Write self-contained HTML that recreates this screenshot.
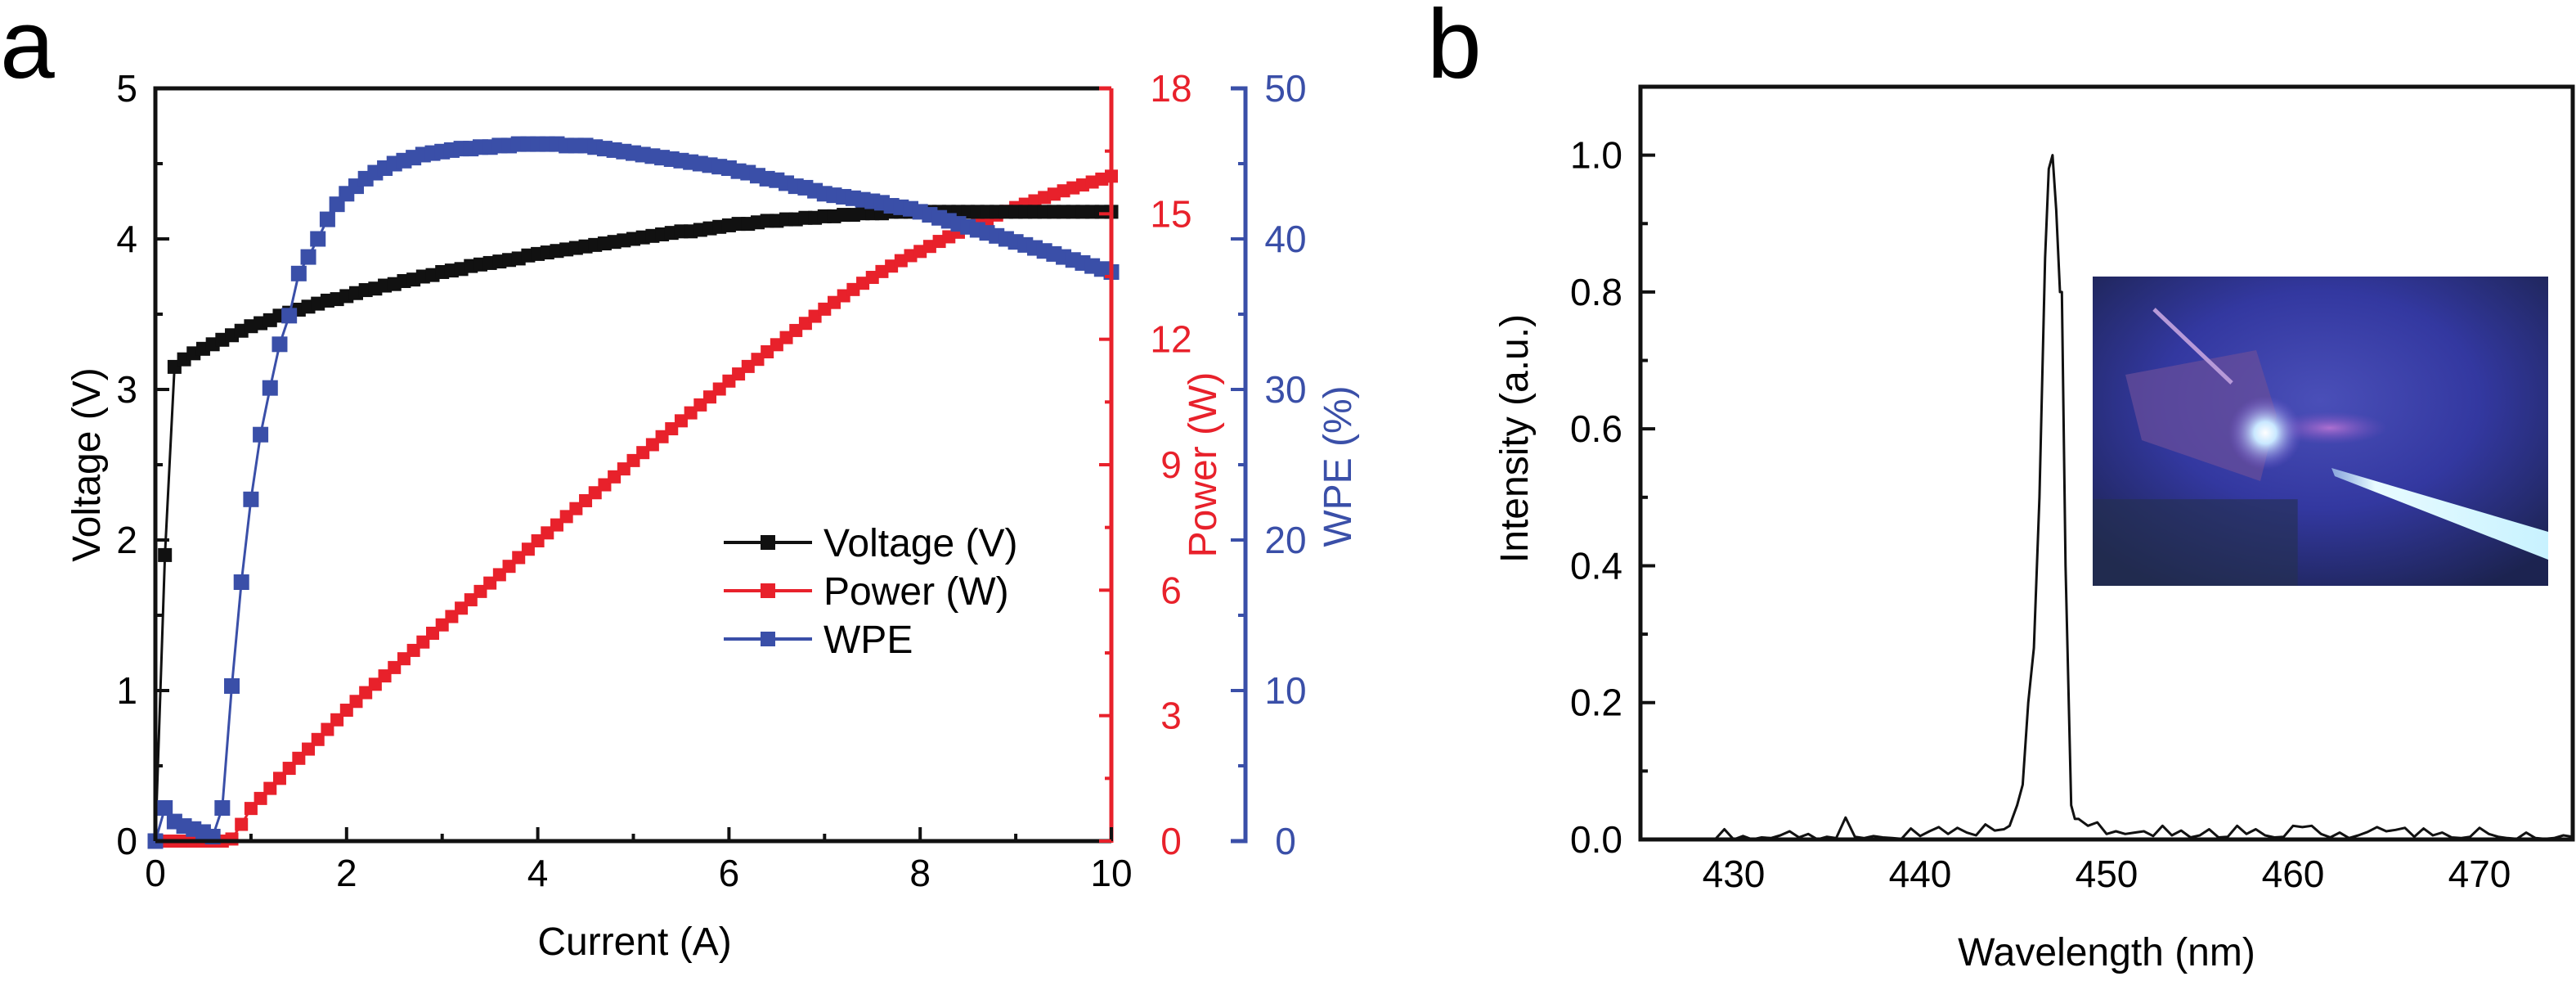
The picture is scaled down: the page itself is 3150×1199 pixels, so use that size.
<!DOCTYPE html>
<html><head><meta charset="utf-8"><style>
html,body{margin:0;padding:0;background:#fff;}
svg{display:block;font-family:"Liberation Sans",Arial,sans-serif;}
</style></head><body>
<svg id="fig" width="3150" height="1199" viewBox="0 0 3150 1199" xmlns="http://www.w3.org/2000/svg">
<defs>
<radialGradient id="bgGlow" cx="0.5" cy="0.4" r="0.7">
<stop offset="0" stop-color="#4a4fb8"/><stop offset="0.5" stop-color="#3338a0"/><stop offset="1" stop-color="#1c2350"/>
</radialGradient>
<radialGradient id="spot" cx="0.5" cy="0.5" r="0.5">
<stop offset="0" stop-color="#ffffff"/><stop offset="0.3" stop-color="#c9e8ff"/><stop offset="1" stop-color="#7a5ad0" stop-opacity="0"/>
</radialGradient>
<linearGradient id="beam" x1="0" y1="0" x2="1" y2="0">
<stop offset="0" stop-color="#bfe9ff" stop-opacity="0.6"/><stop offset="0.2" stop-color="#e8fbff"/><stop offset="1" stop-color="#c8f2ff"/>
</linearGradient>
<radialGradient id="pinkGlow" cx="0.5" cy="0.5" r="0.5">
<stop offset="0" stop-color="#c87ad8" stop-opacity="0.8"/><stop offset="1" stop-color="#8050c0" stop-opacity="0"/>
</radialGradient>
</defs>
<g id="panelA"></g>
<g id="panelB"></g>
</svg>
<script>
// ---------- Panel a data ----------
const currentA = [0,0.1,0.2,0.3,0.4,0.5,0.6,0.7,0.8,0.9,1.0,1.1,1.2,1.3,1.4,1.5,1.6,1.7,1.8,1.9,2.0,2.1,2.2,2.3,2.4,2.5,2.6,2.7,2.8,2.9,3.0,3.1,3.2,3.3,3.4,3.5,3.6,3.7,3.8,3.9,4.0,4.1,4.2,4.3,4.4,4.5,4.6,4.7,4.8,4.9,5.0,5.1,5.2,5.3,5.4,5.5,5.6,5.7,5.8,5.9,6.0,6.1,6.2,6.3,6.4,6.5,6.6,6.7,6.8,6.9,7.0,7.1,7.2,7.3,7.4,7.5,7.6,7.7,7.8,7.9,8.0,8.1,8.2,8.3,8.4,8.5,8.6,8.7,8.8,8.9,9.0,9.1,9.2,9.3,9.4,9.5,9.6,9.7,9.8,9.9,10.0];
const voltageV = [0,1.9,3.15,3.2,3.24,3.27,3.3,3.33,3.36,3.39,3.42,3.44,3.46,3.49,3.51,3.53,3.55,3.57,3.59,3.6,
3.62,3.64,3.66,3.67,3.69,3.70,3.72,3.73,3.75,3.76,3.78,
3.79,3.80,3.82,3.83,3.84,3.85,3.86,3.87,3.89,3.90,
3.91,3.92,3.93,3.94,3.95,3.96,3.97,3.98,3.99,4.00,
4.01,4.02,4.03,4.04,4.05,4.05,4.06,4.07,4.08,4.09,
4.10,4.10,4.11,4.12,4.12,4.13,4.13,4.14,4.14,4.15,
4.15,4.16,4.16,4.17,4.17,4.17,4.18,4.18,4.18,4.18,
4.18,4.18,4.18,4.18,4.18,4.18,4.18,4.18,4.18,4.18,4.18,4.18,4.18,4.18,4.18,4.18,4.18,4.18,4.18,4.18];
const powerW = [0,0,0,0,0,0,0,0,0.05,0.4,0.78,1.02,1.26,1.5,1.74,1.98,2.2,2.43,2.67,2.9,3.13,
3.34,3.55,3.75,3.95,4.15,4.36,4.56,4.76,4.97,5.17,
5.37,5.57,5.77,5.97,6.17,6.37,6.57,6.78,6.98,7.18,
7.37,7.56,7.76,7.95,8.14,8.33,8.52,8.71,8.9,9.1,
9.29,9.48,9.67,9.86,10.05,10.24,10.43,10.62,10.81,11.0,
11.17,11.35,11.52,11.7,11.87,12.04,12.21,12.38,12.55,12.72,
12.88,13.04,13.19,13.34,13.48,13.62,13.75,13.88,14.0,14.1,
14.22,14.34,14.45,14.56,14.67,14.77,14.87,14.97,15.06,15.15,
15.23,15.31,15.39,15.47,15.55,15.62,15.69,15.76,15.83,15.9];
const wpePct = [0,2.2,1.3,1.0,0.8,0.6,0.3,2.2,10.3,17.2,22.7,27,30.1,33,34.9,37.7,38.8,40,41.3,42.3,43.0,
43.5,44,44.4,44.7,45,45.2,45.4,45.6,45.7,45.8,
45.9,46,46,46.1,46.1,46.2,46.2,46.3,46.3,46.3,
46.3,46.3,46.2,46.2,46.2,46.1,46.0,45.9,45.8,45.7,
45.6,45.5,45.4,45.3,45.2,45.1,45.0,44.9,44.8,44.7,
44.5,44.4,44.2,44.0,43.9,43.7,43.5,43.4,43.2,43.0,
42.9,42.8,42.7,42.6,42.5,42.4,42.2,42.1,42.0,41.8,
41.6,41.4,41.2,41.0,40.8,40.6,40.4,40.2,40.0,39.8,
39.6,39.4,39.2,39.0,38.8,38.6,38.4,38.2,38.0,37.8];
const xTicksA = [0,2,4,6,8,10];
const vTicks = [0,1,2,3,4,5];
const pTicks = [0,3,6,9,12,15,18];
const wTicks = [0,10,20,30,40,50];

// ---------- Panel b data ----------
const wavelengths = [425,429,429.5,430,430.5,431,431.5,432,432.5,433,433.5,434,434.5,435,435.5,436,436.5,437,437.5,438,438.5,439,439.5,440,440.5,441,441.5,442,442.5,443,443.5,444,444.5,
444.8,445.2,445.5,445.8,446.1,446.4,446.7,446.9,447.1,447.3,447.5,447.6,447.8,448.1,448.3,
448.5,449,449.5,450,450.5,451,451.5,452,452.5,453,453.5,454,454.5,455,455.5,456,456.5,457,457.5,458,458.5,459,459.5,460,460.5,461,461.5,462,462.5,463,463.5,464,464.5,465,465.5,466,466.5,467,467.5,468,468.5,469,469.5,470,470.5,471,471.5,472,472.5,473,473.5,474,474.5,475];
const intensity = [0,0,0.015,0,0.005,0,0.003,0.002,0.006,0.012,0.003,0.008,0,0.004,0.002,0.032,0.004,0.002,0.005,0.003,0.002,0.001,0.016,0.005,0.012,0.018,0.008,0.017,0.01,0.006,0.022,0.013,0.015,
0.02,0.05,0.08,0.2,0.28,0.5,0.85,0.98,1.0,0.92,0.8,0.8,0.4,0.05,0.03,
0.03,0.02,0.025,0.008,0.012,0.008,0.01,0.012,0.005,0.02,0.006,0.013,0.003,0.006,0.015,0.003,0.004,0.02,0.008,0.015,0.006,0.003,0.004,0.02,0.018,0.02,0.008,0.003,0.01,0.002,0.006,0.011,0.018,0.012,0.014,0.017,0.004,0.016,0.006,0.01,0.003,0.002,0.004,0.017,0.008,0.004,0.002,0.001,0.01,0.002,0.001,0.002,0.006,0.004];
const xTicksB = [430,440,450,460,470];
const yTicksB = [0,0.2,0.4,0.6,0.8,1.0];

const NS = "http://www.w3.org/2000/svg";
function mk(parent, tag, attrs, text){
  const e = document.createElementNS(NS, tag);
  for (const k in attrs) e.setAttribute(k, attrs[k]);
  if (text !== undefined) e.textContent = text;
  parent.appendChild(e);
  return e;
}
const RED = "#e8212b", BLUE = "#3a4fa8", FS = 46;

// ---------- Panel a ----------
const A = document.getElementById('panelA');
const aL = 190, aR = 1359, aT = 108, aB = 1028;
const xA = v => aL + (v/10)*(aR-aL);
const yV = v => aB - (v/5)*(aB-aT);
const yP = v => aB - (v/18)*(aB-aT);
const yW = v => aB - (v/50)*(aB-aT);

let t = mk(A,'text',{x:0,y:95,'font-size':120,fill:'#000'},'a');
 

function series(vals, yf, color, name, msize){
  const g = mk(A,'g',{});
  
  
  const pts = currentA.map((c,i)=> xA(c).toFixed(1)+','+yf(vals[i]).toFixed(1)).join(' ');
  const pl = mk(g,'polyline',{points:pts,fill:'none',stroke:color,'stroke-width':3});
  
  
  currentA.forEach((c,i)=>{
    const r = mk(g,'rect',{x:xA(c)-msize/2,y:yf(vals[i])-msize/2,width:msize,height:msize,fill:color});
    
    
  });
}
series(powerW, yP, RED, 'power', 16);
series(voltageV, yV, '#111', 'voltage', 17);
series(wpePct, yW, BLUE, 'wpe', 19);

let fr = mk(A,'path',{d:`M${aL},${aB} L${aL},${aT} L${aR},${aT}`,fill:'none',stroke:'#111','stroke-width':5});
 
let bx = mk(A,'line',{x1:aL,y1:aB,x2:aR,y2:aB,stroke:'#111','stroke-width':5});
 
let ra = mk(A,'line',{x1:aR,y1:aT,x2:aR,y2:aB+2,stroke:RED,'stroke-width':5});
 
mk(A,'line',{x1:aR-15,y1:aT,x2:aR,y2:aT,stroke:RED,'stroke-width':5});
const wX = 1523;
let ba = mk(A,'path',{d:`M${wX-18},${aT} L${wX},${aT} L${wX},${aB} L${wX-18},${aB}`,fill:'none',stroke:BLUE,'stroke-width':5});
 

for (let v=0; v<=10; v+=1){
  const major = v%2===0;
  mk(A,'line',{x1:xA(v),y1:aB,x2:xA(v),y2:aB-(major?17:9),stroke:'#111','stroke-width':4});
}
xTicksA.forEach(v=>{
  const e = mk(A,'text',{x:xA(v),y:1083,'font-size':FS,'text-anchor':'middle',fill:'#000'},String(v));
   
});
for (let v=0; v<=5; v+=0.5){
  const major = Math.abs(v-Math.round(v))<1e-6;
  mk(A,'line',{x1:aL,y1:yV(v),x2:aL+(major?17:9),y2:yV(v),stroke:'#111','stroke-width':4});
}
vTicks.forEach(v=>{
  const e = mk(A,'text',{x:168,y:yV(v)+16,'font-size':FS,'text-anchor':'end',fill:'#000'},String(v));
   
});
for (let v=0; v<=18; v+=1.5){
  const major = v%3===0;
  mk(A,'line',{x1:aR,y1:yP(v),x2:aR-(major?15:8),y2:yP(v),stroke:RED,'stroke-width':4});
}
pTicks.forEach(v=>{
  const e = mk(A,'text',{x:1432,y:yP(v)+16,'font-size':FS,'text-anchor':'middle',fill:RED},String(v));
   
});
for (let v=0; v<=50; v+=5){
  const major = v%10===0;
  mk(A,'line',{x1:wX,y1:yW(v),x2:wX-(major?18:9),y2:yW(v),stroke:BLUE,'stroke-width':4});
}
wTicks.forEach(v=>{
  const e = mk(A,'text',{x:1572,y:yW(v)+16,'font-size':FS,'text-anchor':'middle',fill:BLUE},String(v));
   
});
t = mk(A,'text',{x:776,y:1167,'font-size':48,'text-anchor':'middle',fill:'#000'},'Current (A)');
 
t = mk(A,'text',{x:0,y:0,'font-size':48,'text-anchor':'middle',fill:'#000',transform:'translate(122,568) rotate(-90)'},'Voltage (V)');
 
t = mk(A,'text',{x:0,y:0,'font-size':48,'text-anchor':'middle',fill:RED,transform:'translate(1487,568) rotate(-90)'},'Power (W)');
 
t = mk(A,'text',{x:0,y:0,'font-size':48,'text-anchor':'middle',fill:BLUE,transform:'translate(1652,570) rotate(-90)'},'WPE (%)');
 

const leg = mk(A,'g',{});
 
[['Voltage (V)','#111',663],['Power (W)',RED,722],['WPE',BLUE,781]].forEach(([lab,col,y])=>{
  const g = mk(leg,'g',{});
   
  mk(g,'line',{x1:885,y1:y,x2:993,y2:y,stroke:col,'stroke-width':4});
  mk(g,'rect',{x:930,y:y-9,width:18,height:18,fill:col});
  mk(g,'text',{x:1007,y:y+17,'font-size':48,fill:'#000'},lab);
});

// ---------- Panel b ----------
const B = document.getElementById('panelB');
const bL = 2006, bR = 3146, bT = 106, bB = 1026;
const xB = v => bL + (v-425)/50*(bR-bL);
const yB = v => bB - v/1.1*(bB-bT);

t = mk(B,'text',{x:1745,y:95,'font-size':120,fill:'#000'},'b');
 

const ph = mk(B,'g',{});
 
const pX=2559, pY=338, pW=557, pH=378;
mk(ph,'rect',{x:pX,y:pY,width:pW,height:pH,fill:'url(#bgGlow)'});
mk(ph,'rect',{x:pX,y:pY+pH*0.72,width:pW*0.45,height:pH*0.28,fill:'#25304f',opacity:0.6});
mk(ph,'polygon',{points:`${pX+40},${pY+120} ${pX+200},${pY+90} ${pX+225},${pY+170} ${pX+205},${pY+250} ${pX+60},${pY+200}`,fill:'#6a4f9a',opacity:0.7});
mk(ph,'line',{x1:pX+75,y1:pY+40,x2:pX+170,y2:pY+130,stroke:'#b79ad8','stroke-width':5});
mk(ph,'ellipse',{cx:pX+290,cy:pY+185,rx:70,ry:20,fill:'url(#pinkGlow)'});
mk(ph,'circle',{cx:2770,cy:529,r:45,fill:'url(#spot)'});
mk(ph,'polygon',{points:`2851,572 ${pX+pW},650 ${pX+pW},684 2855,582`,fill:'url(#beam)'});

let fb = mk(B,'rect',{x:bL,y:bT,width:bR-bL,height:bB-bT,fill:'none',stroke:'#111','stroke-width':5});
 
for (let v=0; v<=1.0001; v+=0.1){
  const major = Math.round(v*10)%2===0;
  mk(B,'line',{x1:bL,y1:yB(v),x2:bL+(major?18:9),y2:yB(v),stroke:'#111','stroke-width':4});
}
yTicksB.forEach(v=>{
  const e = mk(B,'text',{x:1984,y:yB(v)+16,'font-size':FS,'text-anchor':'end',fill:'#000'},v.toFixed(1));
   
});
xTicksB.forEach(v=>{
  const e = mk(B,'text',{x:xB(v),y:1084,'font-size':FS,'text-anchor':'middle',fill:'#000'},String(v));
   
});
t = mk(B,'text',{x:2576,y:1180,'font-size':48,'text-anchor':'middle',fill:'#000'},'Wavelength (nm)');
 
t = mk(B,'text',{x:0,y:0,'font-size':48,'text-anchor':'middle',fill:'#000',transform:'translate(1868,536) rotate(-90)'},'Intensity (a.u.)');
 

const sp = mk(B,'polyline',{points:wavelengths.map((w,i)=>xB(w).toFixed(1)+','+yB(intensity[i]).toFixed(1)).join(' '),fill:'none',stroke:'#111','stroke-width':3,'stroke-linejoin':'round'});


</script>
</body></html>
